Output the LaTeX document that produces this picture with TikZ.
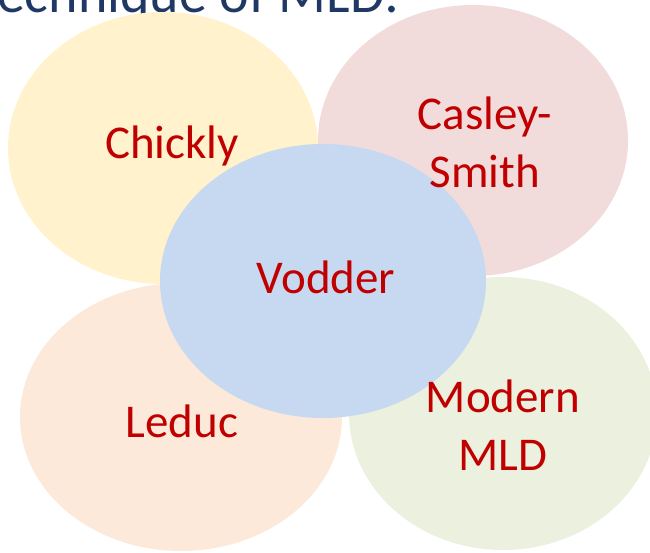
\documentclass[tikz,border=0pt]{standalone}
\usepackage{fontspec}
\setmainfont{Carlito}
\usetikzlibrary{shapes.geometric}
\definecolor{cyellow}{HTML}{FFF2CC}
\definecolor{cpink}{HTML}{F2DCDB}
\definecolor{cpeach}{HTML}{FDE9D9}
\definecolor{cgreen}{HTML}{EBF1DE}
\definecolor{cblue}{HTML}{C6D9F1}
\definecolor{labred}{HTML}{C00000}
\definecolor{titleblue}{HTML}{1F3864}
\tikzset{
  blob/.style={ellipse, draw=none, inner sep=0pt, outer sep=0pt},
  lab/.style={text=labred, font=\fontsize{47}{57.5}\selectfont, align=center, inner sep=0pt, anchor=base},
}
\begin{document}
\begin{tikzpicture}[x=1pt,y=-1pt]
\useasboundingbox (0,0) rectangle (650,552);
\clip (0,0) rectangle (650,552);
\node[text=titleblue, font=\fontsize{56}{60}\selectfont, inner sep=0pt, anchor=base east] (title) at (400,12) {Technique of MLD:};
\node[blob, fill=cyellow, minimum width=310pt, minimum height=272pt] (chk) at (163,148) {};
\node[blob, fill=cpink, minimum width=310pt, minimum height=271pt] (cas) at (473,140.5) {};
\node[blob, fill=cpeach, minimum width=322pt, minimum height=268pt] (led) at (181,417) {};
\node[blob, fill=cgreen, minimum width=308pt, minimum height=273pt] (mod) at (503,413.5) {};
\node[blob, fill=cblue, minimum width=326pt, minimum height=274pt] (vod) at (323,281) {};
\node[lab] (tchk) at (172,158) {Chickly};
\node[lab] (tcas) at (485,187) {Casley-\\Smith};
\node[lab] (tvod) at (326,293) {Vodder};
\node[lab] (tled) at (182,437) {Leduc};
\node[lab] (tmod) at (503,470) {Modern\\MLD};
\end{tikzpicture}
\end{document}
